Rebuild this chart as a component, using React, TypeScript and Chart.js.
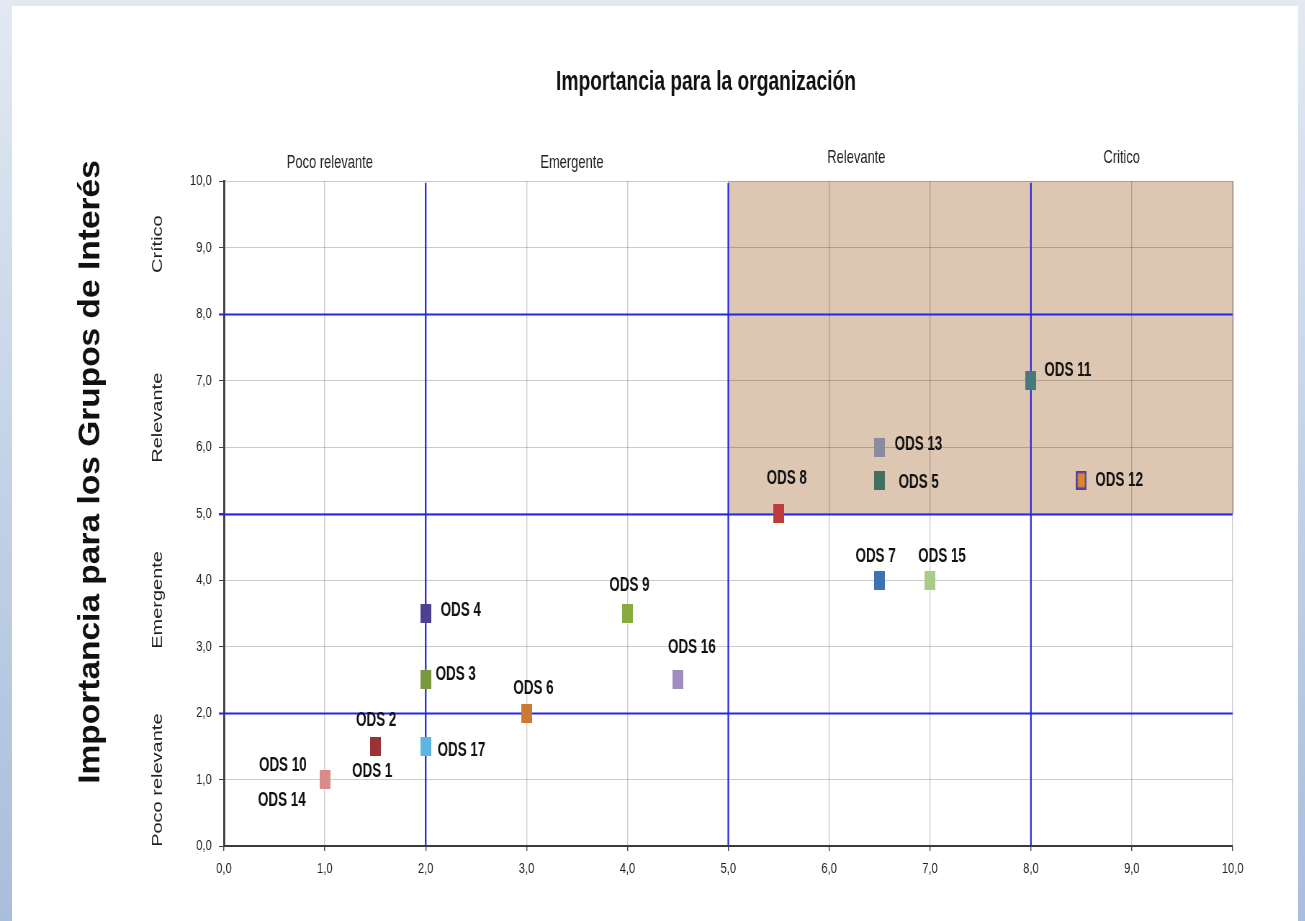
import React, { useEffect, useRef } from 'react';
import { Chart, registerables } from 'chart.js';

Chart.register(...registerables);

// ---------------- data ----------------
const odsNames = [
  'ODS 1', 'ODS 2', 'ODS 3', 'ODS 4', 'ODS 5', 'ODS 6', 'ODS 7', 'ODS 8', 'ODS 9',
  'ODS 10', 'ODS 11', 'ODS 12', 'ODS 13', 'ODS 14', 'ODS 15', 'ODS 16', 'ODS 17',
];
// Importancia para la organización (x)
const orgImportance = [1.5, 1.5, 2, 2, 6.5, 3, 6.5, 5.5, 4, 1, 8, 8.5, 6.5, 1, 7, 4.5, 2];
// Importancia para los Grupos de Interés (y)
const groupImportance = [1.5, 1.5, 2.5, 3.5, 5.5, 2, 4, 5, 3.5, 1, 7, 5.5, 6, 1, 4, 2.5, 1.5];

const tickLabels = ['0,0', '1,0', '2,0', '3,0', '4,0', '5,0', '6,0', '7,0', '8,0', '9,0', '10,0'];
const levelNamesX = ['Poco relevante', 'Emergente', 'Relevante', 'Critico'];
const levelNamesY = ['Poco relevante', 'Emergente', 'Relevante', 'Crítico'];
const levelLabelX = [1.05, 3.45, 6.27, 8.9];
const levelLabelY = [0.99, 3.7, 6.44, 9.05];
const levelLimits = [2, 5, 8];
const criticalZoneX = [5, 10];
const criticalZoneY = [5, 10];
const chartTitle = 'Importancia para la organización';
const yAxisTitle = 'Importancia para los Grupos de Interés';

// ---------------- styles ----------------
const markerColors = [
  '#9a3333', '#9a3333', '#7a993d', '#4f408f', '#40705f', '#cc7934', '#3f71b6', '#bc3c3c', '#88aa3f',
  '#d98a8a', '#477a7b', '#d8872e', '#8b8c9b', '#d98a8a', '#aacc8a', '#9e8ec0', '#5db6e2',
];
const markerOutline = ['', '', '', '', '', '', '', '', '', '', '', '#5a3fa3', '', '', '', '', ''];
// label placement: [dx, dy, align] in screen px from marker centre
const labelPlacement: [number, number, CanvasTextAlign][] = [
  [-3, 25, 'center'], [1, -26, 'center'], [10, -5, 'left'], [15, -3, 'left'], [19, 2.5, 'left'],
  [7, -24.5, 'center'], [-4, -24, 'center'], [8, -35, 'center'], [2, -28, 'center'], [-42, -14.5, 'center'],
  [13.5, -10.5, 'left'], [14, 0, 'left'], [15, -2.5, 'left'], [-43, 20.5, 'center'], [12, -24, 'center'],
  [14, -32, 'center'], [12, 4.5, 'left'],
];
const levelLabelBaselineX = [168, 168, 163, 163];

const SX = 0.72; // horizontal squeeze of the whole drawing
const CANVAS_W = Math.round(1305 / SX);
const CANVAS_H = 921;
const FONT = '"Liberation Sans", Arial, Helvetica, sans-serif';
const ZONE_FILL = 'rgb(222,199,178)';
const LIMIT_BLUE = '#2626e6';
const GRID = 'rgba(0,0,0,0.2)';

function makeMarker(color: string, outline: string): HTMLCanvasElement {
  const c = document.createElement('canvas');
  c.width = 15;
  c.height = 19;
  const g = c.getContext('2d')!;
  g.fillStyle = color;
  g.fillRect(0, 0, 15, 19);
  if (outline) {
    g.strokeStyle = outline;
    g.lineWidth = 3;
    g.strokeRect(1, 1, 13, 17);
  }
  return c;
}

type TxtOpts = {
  font: string;
  sx?: number;
  align?: CanvasTextAlign;
  baseline?: CanvasTextBaseline;
  color?: string;
  vertical?: boolean;
  thick?: number;
};

function drawText(ctx: CanvasRenderingContext2D, text: string, x: number, y: number, o: TxtOpts) {
  ctx.save();
  ctx.translate(x, y);
  if (o.vertical) {
    ctx.rotate(-Math.PI / 2);
    ctx.scale(1, o.thick ?? 1);
  } else {
    ctx.scale(o.sx ?? 1, 1);
  }
  ctx.font = o.font;
  ctx.fillStyle = o.color ?? '#111';
  ctx.textAlign = o.align ?? 'center';
  ctx.textBaseline = o.baseline ?? 'middle';
  ctx.fillText(text, 0, 0);
  ctx.restore();
}

const materialityPlugin = {
  id: 'materiality',
  beforeDraw(chart: any) {
    const { ctx, scales } = chart;
    const x = scales.x, y = scales.y;
    const x0 = x.getPixelForValue(criticalZoneX[0]);
    const x1 = x.getPixelForValue(criticalZoneX[1]);
    const y0 = y.getPixelForValue(criticalZoneY[1]);
    const y1 = y.getPixelForValue(criticalZoneY[0]);
    ctx.save();
    ctx.fillStyle = ZONE_FILL;
    ctx.fillRect(x0, y0, x1 - x0 + 2, y1 - y0);
    ctx.restore();
  },
  beforeDatasetsDraw(chart: any) {
    const { ctx, scales, chartArea } = chart;
    const x = scales.x, y = scales.y;
    ctx.save();
    ctx.scale(1 / SX, 1);
    ctx.strokeStyle = LIMIT_BLUE;
    const left = chartArea.left * SX;
    const right = chartArea.right * SX;
    levelLimits.forEach((v) => {
      const py = Math.round(y.getPixelForValue(v)) + 0.5;
      ctx.lineWidth = 2;
      ctx.beginPath();
      ctx.moveTo(left - 5, py);
      ctx.lineTo(right, py);
      ctx.stroke();
    });
    levelLimits.forEach((v) => {
      const px = x.getPixelForValue(v) * SX;
      ctx.lineWidth = 1.6;
      ctx.beginPath();
      ctx.moveTo(px, chartArea.top + 2);
      ctx.lineTo(px, chartArea.bottom);
      ctx.stroke();
    });
    ctx.restore();
  },
  afterDatasetsDraw(chart: any) {
    const { ctx, scales } = chart;
    const x = scales.x, y = scales.y;
    ctx.save();
    ctx.scale(1 / SX, 1);
    odsNames.forEach((name, i) => {
      const px = x.getPixelForValue(orgImportance[i]) * SX;
      const py = y.getPixelForValue(groupImportance[i]);
      const [dx, dy, align] = labelPlacement[i];
      drawText(ctx, name, px + dx, py + dy, {
        font: `bold 20px ${FONT}`,
        sx: 0.67,
        align,
        color: '#111',
      });
    });
    ctx.restore();
  },
  afterDraw(chart: any) {
    const { ctx, scales } = chart;
    const x = scales.x, y = scales.y;
    ctx.save();
    ctx.scale(1 / SX, 1);
    drawText(ctx, chartTitle, 706, 90, {
      font: `bold 28px ${FONT}`,
      sx: 0.686,
      baseline: 'alphabetic',
      color: '#111',
    });
    levelNamesX.forEach((name, i) => {
      drawText(ctx, name, x.getPixelForValue(levelLabelX[i]) * SX, levelLabelBaselineX[i], {
        font: `19px ${FONT}`,
        sx: 0.68,
        baseline: 'alphabetic',
        color: '#222',
      });
    });
    levelNamesY.forEach((name, i) => {
      drawText(ctx, name, 162, y.getPixelForValue(levelLabelY[i]), {
        font: `20px ${FONT}`,
        vertical: true,
        thick: 0.72,
        baseline: 'alphabetic',
        color: '#222',
      });
    });
    drawText(ctx, yAxisTitle, 99, 472, {
      font: `bold 33.5px ${FONT}`,
      vertical: true,
      thick: 0.9,
      baseline: 'alphabetic',
      color: '#111',
    });
    ctx.restore();
  },
};

export default function App() {
  const ref = useRef<HTMLCanvasElement>(null);

  useEffect(() => {
    const canvas = ref.current;
    if (!canvas) return;
    const markers = markerColors.map((c, i) => makeMarker(c, markerOutline[i]));
    const tickFont = { family: FONT, size: 15.5 };
    const chart = new Chart(canvas, {
      type: 'scatter',
      data: {
        datasets: [
          {
            label: 'ODS',
            data: orgImportance.map((v, i) => ({ x: v, y: groupImportance[i] })),
            pointStyle: markers as any,
            pointRadius: 8,
            pointHoverRadius: 8,
          },
        ],
      },
      options: {
        animation: false,
        responsive: false,
        devicePixelRatio: 1,
        events: [],
        layout: { padding: { top: 181, right: 101, left: 0, bottom: 0 } },
        plugins: {
          legend: { display: false },
          tooltip: { enabled: false },
          title: { display: false },
        },
        scales: {
          x: {
            type: 'linear',
            min: 0,
            max: 10,
            ticks: {
              stepSize: 1,
              maxRotation: 0,
              autoSkip: false,
              padding: 8,
              color: '#222',
              font: tickFont,
              callback: (v: any) => tickLabels[Math.round(Number(v))],
            },
            grid: { color: GRID, lineWidth: 1.4, tickColor: '#444', tickLength: 5 },
            border: { color: '#3a3a3a', width: 2 },
            afterFit: (s: any) => {
              s.height = 75;
            },
          },
          y: {
            type: 'linear',
            min: 0,
            max: 10,
            ticks: {
              stepSize: 1,
              autoSkip: false,
              padding: 10,
              color: '#222',
              font: tickFont,
              callback: (v: any) => tickLabels[Math.round(Number(v))],
            },
            grid: { color: GRID, lineWidth: 1, tickColor: '#444', tickLength: 7 },
            border: { color: '#3a3a3a', width: 2.8 },
            afterFit: (s: any) => {
              s.width = 311;
            },
          },
        },
      },
      plugins: [materialityPlugin],
    });
    return () => chart.destroy();
  }, []);

  return (
    <div
      style={{
        position: 'absolute',
        left: 0,
        top: 0,
        width: 1305,
        height: 921,
        overflow: 'hidden',
        background: 'linear-gradient(180deg, #e2e9f2 0%, #c6d5e8 45%, #a9bedb 100%)',
      }}
    >
      <div
        style={{
          position: 'absolute',
          left: 12,
          top: 6,
          width: 1286,
          height: 915,
          background: '#ffffff',
        }}
      />
      <div
        style={{
          position: 'absolute',
          left: 0,
          top: 0,
          width: CANVAS_W,
          height: CANVAS_H,
          transform: `scaleX(${SX})`,
          transformOrigin: '0 0',
        }}
      >
        <canvas
          ref={ref}
          width={CANVAS_W}
          height={CANVAS_H}
          style={{ width: CANVAS_W, height: CANVAS_H, display: 'block' }}
        />
      </div>
    </div>
  );
}
